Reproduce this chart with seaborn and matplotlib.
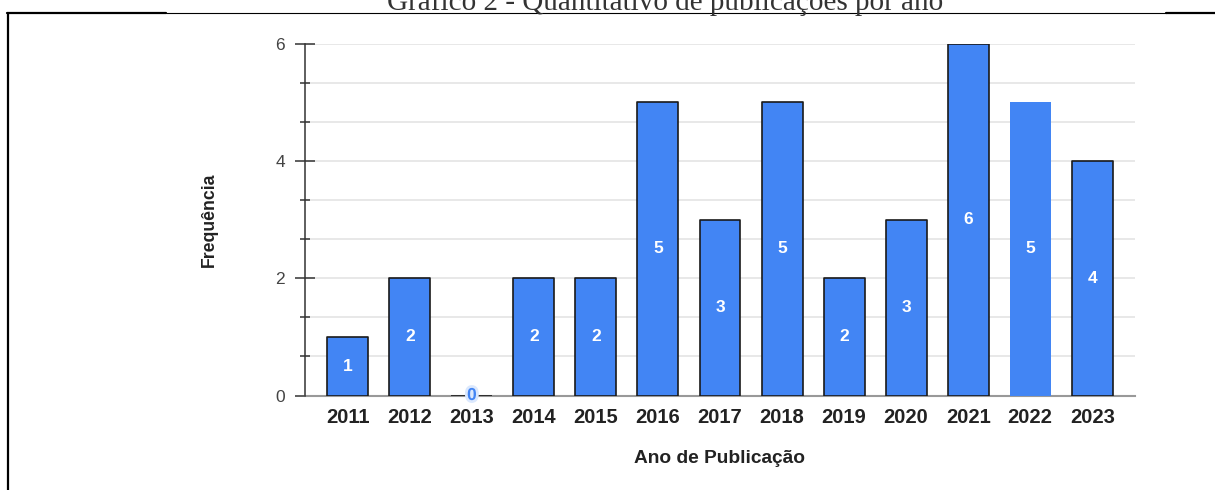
import matplotlib
matplotlib.use('Agg')
import matplotlib.pyplot as plt
import matplotlib.patheffects as pe
from matplotlib.lines import Line2D
from matplotlib.ticker import MultipleLocator, FixedLocator
import seaborn as sns
import pandas as pd

# ---- data ----
years = ['2011', '2012', '2013', '2014', '2015', '2016', '2017',
         '2018', '2019', '2020', '2021', '2022', '2023']
counts = [1, 2, 0, 2, 2, 5, 3, 5, 2, 3, 6, 5, 4]
y_major = [0, 2, 4, 6]
title = 'Gráfico 2 - Quantitativo de publicações por ano'
xlabel = 'Ano de Publicação'
ylabel = 'Frequência'

BLUE = '#4285F4'

sns.set_style('white')
plt.rcParams['font.family'] = ['Liberation Sans', 'DejaVu Sans']

W, H = 1215, 490
fig = plt.figure(figsize=(W / 100, H / 100), dpi=100)
ax = fig.add_axes([305 / W, (H - 395.5) / H, 830 / W, 352 / H])

df = pd.DataFrame({'year': years, 'count': counts})
sns.barplot(data=df, x='year', y='count', color=BLUE, saturation=1,
            width=0.66, edgecolor='#1a1a1a', linewidth=1.2,
            errorbar=None, ax=ax, zorder=3)

bars = ax.containers[0]
bars[11].set_edgecolor('none')
for b in bars:
    b.set_joinstyle('round')

ax.set_xlim(-0.69, len(years) - 1 + 0.69)
ax.set_ylim(0, 6)

# grid & ticks
ax.yaxis.set_major_locator(FixedLocator(y_major))
ax.yaxis.set_minor_locator(MultipleLocator(2 / 3))
ax.set_axisbelow(True)
ax.grid(True, which='both', axis='y', color='#e4e4e4', lw=1.2)
ax.grid(False, axis='x')
ax.tick_params(axis='y', which='major', left=True, direction='inout',
               length=15, width=1.1, color='#333333', labelsize=12.5,
               labelcolor='#444444', pad=7)
ax.tick_params(axis='y', which='minor', left=True, direction='inout',
               length=7.5, width=1.1, color='#333333')
ax.tick_params(axis='x', length=0, pad=9, labelsize=14.5, labelcolor='#222222')
for lbl in ax.get_xticklabels():
    lbl.set_fontweight('bold')

for s in ('top', 'right'):
    ax.spines[s].set_visible(False)
ax.spines['left'].set_color('#333333')
ax.spines['left'].set_linewidth(1.1)
ax.spines['bottom'].set_color('#999999')
ax.spines['bottom'].set_linewidth(1.5)
ax.spines['bottom'].set_zorder(2)

ax.set_xlabel(xlabel, fontsize=13.8, fontweight='bold', color='#222222')
ax.xaxis.set_label_coords(0.5, -0.155)
ax.set_ylabel(ylabel, fontsize=12.7, fontweight='bold', color='#222222')
ax.yaxis.set_label_coords(-0.105, 0.5)

# value labels
lbls = ax.bar_label(bars, labels=[str(c) for c in counts], label_type='center',
                    color='white', fontweight='bold', fontsize=12.5, zorder=5)
for t, c in zip(lbls, counts):
    if c == 0:
        t.set_color(BLUE)
        t.set_path_effects([pe.withStroke(linewidth=4, foreground='#dbe8fd')])

# title (partly cut off at the top, as in the source document)
fig.text(665 / W, 1 - 9.5 / H, title, ha='center', va='baseline', fontsize=21,
         family=['Liberation Serif', 'DejaVu Serif'], color='#333333')

# document frame lines
ytop = 1 - 13 / H
fig.add_artist(Line2D([7 / W, 166 / W], [ytop, ytop], lw=1.6, color='black',
                      transform=fig.transFigure))
fig.add_artist(Line2D([166 / W, 1166 / W], [ytop, ytop], lw=0.8, color='black',
                      transform=fig.transFigure))
fig.add_artist(Line2D([1166 / W, 1.0], [ytop, ytop], lw=1.6, color='black',
                      transform=fig.transFigure))
fig.add_artist(Line2D([8 / W, 8 / W], [ytop, 0], lw=1.6, color='black',
                      transform=fig.transFigure))

fig.savefig('out.png', dpi=100)
